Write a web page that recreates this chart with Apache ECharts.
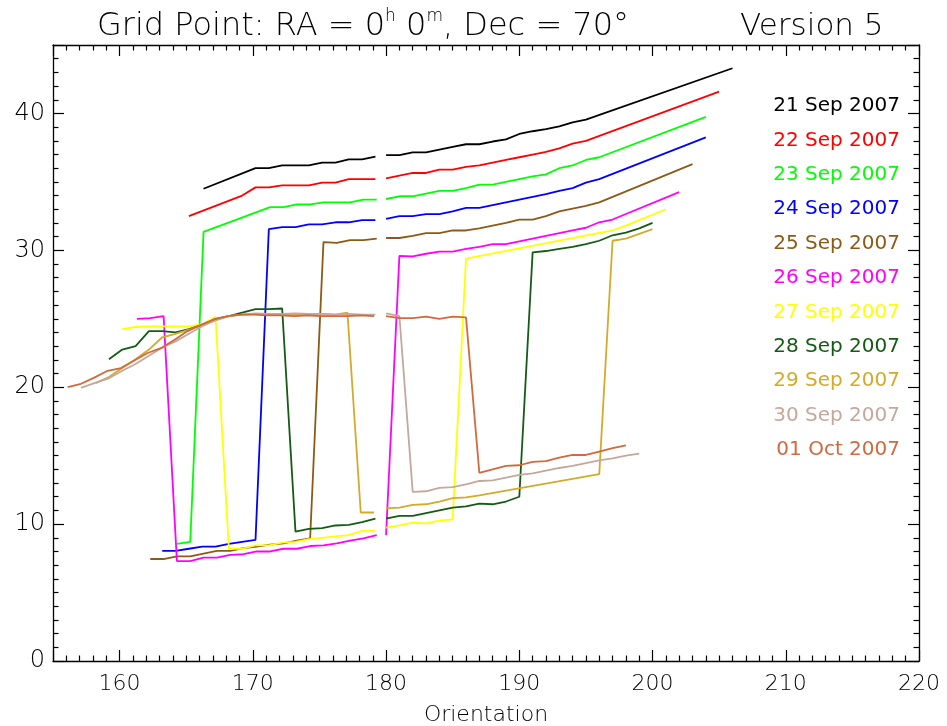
<!DOCTYPE html>
<html>
<head>
<meta charset="utf-8">
<script src="https://cdn.jsdelivr.net/npm/echarts@6/dist/echarts.min.js"></script>
<style>
  html, body { margin: 0; padding: 0; background: #ffffff; }
  #chart { width: 947px; height: 726px; }
</style>
</head>
<body>
<div id="chart"></div>
<script>
// Orientation (deg) vs. value for each observation date.
// A null entry marks the break in each track just below 180 deg.
const sep21 = [[166.3,34.5],[170.2,36.0],[171.2,36.0],[172.2,36.2],[174.2,36.2],[175.2,36.4],[176.2,36.4],[177.2,36.65],[178.2,36.65],[179.2,36.85],
  null,
  [180,36.95],[181,36.95],[182,37.15],[183,37.15],[184,37.35],[185,37.55],[186,37.75],[187,37.75],[188,37.95],[189,38.1],[190,38.5],[191,38.7],[192,38.85],[193,39.05],[194,39.35],[195,39.55],[206,43.3]];

const sep22 = [[165.2,32.5],[169.2,34.0],[170.2,34.6],[171.2,34.6],[172.2,34.75],[174.2,34.75],[175.2,34.95],[176.2,34.95],[177.2,35.2],[179.2,35.2],
  null,
  [180,35.25],[181,35.45],[182,35.65],[183,35.65],[184,35.9],[185,35.9],[186,36.1],[187,36.2],[188,36.4],[189,36.6],[190,36.8],[191,37.0],[192,37.2],[193,37.45],[194,37.8],[195,38.0],[205,41.6]];

const sep23 = [[164.3,8.55],[165.3,8.7],[166.3,31.35],[171.3,33.15],[172.3,33.15],[173.3,33.35],[174.3,33.35],[175.3,33.5],[177.3,33.5],[178.3,33.7],[179.3,33.7],
  null,
  [180,33.75],[181,33.95],[182,33.95],[183,34.15],[184,34.35],[185,34.35],[186,34.55],[187,34.8],[188,34.8],[189,35.0],[190,35.2],[191,35.4],[192,35.55],[193,36.0],[194,36.2],[195,36.6],[196,36.8],[204,39.75]];

const sep24 = [[163.2,8.05],[164.2,8.05],[165.2,8.2],[166.2,8.35],[167.2,8.35],[168.2,8.55],[169.2,8.7],[170.2,8.85],[171.2,31.55],[172.2,31.7],[173.2,31.7],[174.2,31.9],[175.2,31.9],[176.2,32.05],[177.2,32.05],[178.2,32.2],[179.2,32.2],
  null,
  [180,32.3],[181,32.5],[182,32.5],[183,32.65],[184,32.65],[185,32.85],[186,33.1],[187,33.1],[188,33.3],[189,33.5],[190,33.7],[191,33.9],[192,34.1],[193,34.35],[194,34.55],[195,34.95],[196,35.2],[204,38.25]];

const sep25 = [[162.3,7.45],[163.3,7.45],[164.3,7.65],[165.3,7.65],[166.3,7.85],[167.3,8.05],[168.3,8.05],[169.3,8.25],[170.3,8.35],[171.3,8.5],[172.3,8.6],[173.3,8.8],[174.3,8.95],[175.3,30.6],[176.3,30.55],[177.3,30.75],[178.3,30.75],[179.3,30.85],
  null,
  [180,30.9],[181,30.9],[182,31.05],[183,31.25],[184,31.25],[185,31.45],[186,31.45],[187,31.6],[188,31.8],[189,32.0],[190,32.25],[191,32.25],[192,32.5],[193,32.85],[194,33.05],[195,33.25],[196,33.5],[203,36.3]];

const sep26 = [[161.3,25.0],[162.3,25.05],[163.3,25.2],[164.3,7.3],[165.3,7.3],[166.3,7.55],[167.3,7.55],[168.3,7.75],[169.3,7.8],[170.3,8.0],[171.3,8.0],[172.3,8.2],[173.3,8.2],[174.3,8.4],[175.3,8.45],[176.3,8.6],[177.3,8.8],[178.3,8.95],[179.3,9.2],
  null,
  [180,9.2],[181,29.6],[182,29.55],[183,29.75],[184,29.9],[185,29.9],[186,30.1],[187,30.25],[188,30.45],[189,30.45],[190,30.65],[191,30.85],[192,31.05],[193,31.25],[194,31.45],[195,31.65],[196,32.05],[197,32.25],[202,34.25]];

const sep27 = [[160.2,24.25],[161.2,24.4],[162.2,24.45],[163.2,24.45],[164.2,24.45],[165.2,24.45],[166.2,24.6],[167.2,25.15],[168.2,8.2],[169.2,8.2],[170.2,8.45],[171.2,8.45],[172.2,8.65],[173.2,8.7],[174.2,8.9],[175.2,9.0],[176.2,9.1],[177.2,9.2],[178.2,9.5],[179.2,9.5],
  null,
  [180,9.75],[181,9.9],[182,10.1],[183,10.05],[184,10.25],[185,10.35],[186,29.4],[197,31.45],[198,31.8],[201,33.0]];

const sep28 = [[159.2,22.05],[160.2,22.75],[161.2,23.0],[162.2,24.1],[163.2,24.1],[164.2,24.0],[165.2,24.25],[166.2,24.55],[167.2,25.0],[168.2,25.2],[169.2,25.45],[170.2,25.7],[171.2,25.7],[172.2,25.75],[173.2,9.45],[174.2,9.65],[175.2,9.7],[176.2,9.9],[177.2,9.95],[178.2,10.15],[179.2,10.4],
  null,
  [180,10.4],[181,10.6],[182,10.6],[183,10.8],[184,11.0],[185,11.2],[186,11.3],[187,11.5],[188,11.45],[189,11.65],[190,12.0],[191,29.85],[192,29.95],[193,30.1],[194,30.25],[195,30.45],[196,30.7],[197,31.1],[198,31.3],[199,31.6],[200,32.0]];

const sep29 = [[158.2,20.3],[159.2,20.75],[160.2,21.4],[161.2,22.05],[162.2,22.75],[163.2,23.65],[164.2,23.9],[165.2,24.2],[166.2,24.55],[167.2,24.9],[168.2,25.2],[169.2,25.3],[170.2,25.35],[171.2,25.35],[172.2,25.3],[173.2,25.3],[174.2,25.3],[175.2,25.35],[176.2,25.3],[177.1,25.45],[178.1,10.85],[179.1,10.85],
  null,
  [180,11.15],[181,11.2],[182,11.4],[183,11.45],[184,11.65],[185,11.9],[186,11.95],[187,12.1],[196,13.65],[197,30.7],[198,30.85],[200,31.55]];

const sep30 = [[157.1,19.95],[158.1,20.3],[159.2,20.65],[160.2,21.2],[161.2,21.7],[162.2,22.3],[163.2,22.9],[164.2,23.35],[165.2,23.9],[166.2,24.45],[167.2,24.9],[168.2,25.2],[169.2,25.3],[170.2,25.4],[171.2,25.35],[172.2,25.35],[173.2,25.4],[174.2,25.35],[175.2,25.35],[176.2,25.3],[177.2,25.35],[178.2,25.3],[179.2,25.3],
  null,
  [180,25.4],[181,25.2],[182,12.35],[183,12.4],[184,12.65],[185,12.7],[186,12.9],[187,13.15],[188,13.2],[189,13.4],[190,13.6],[191,13.7],[192,13.9],[193,14.1],[194,14.25],[195,14.45],[196,14.65],[197,14.8],[198,15.0],[199,15.15]];

const oct01 = [[156.1,20.0],[157.1,20.25],[158.1,20.7],[159.1,21.2],[160.1,21.4],[161.1,21.95],[162.1,22.5],[163.1,22.85],[164.1,23.45],[165.1,24.1],[166.1,24.55],[167.1,24.95],[168.1,25.2],[169.1,25.3],[170.1,25.3],[171.1,25.25],[172.1,25.25],[173.1,25.2],[174.1,25.25],[175.1,25.2],[176.1,25.2],[177.1,25.2],[178.1,25.25],[179.1,25.2],
  null,
  [180,25.2],[181,25.05],[182,25.05],[183,25.15],[184,25.0],[185,25.15],[186,25.1],[187,13.75],[188,14.0],[189,14.25],[190,14.3],[191,14.55],[192,14.6],[193,14.85],[194,15.05],[195,15.05],[196,15.3],[197,15.55],[198,15.75]];

const dates = ['21 Sep 2007', '22 Sep 2007', '23 Sep 2007', '24 Sep 2007', '25 Sep 2007', '26 Sep 2007',
               '27 Sep 2007', '28 Sep 2007', '29 Sep 2007', '30 Sep 2007', '01 Oct 2007'];
const tracks = [sep21, sep22, sep23, sep24, sep25, sep26, sep27, sep28, sep29, sep30, oct01];
const colors = ['#000000', '#ff0000', '#00ff00', '#0000ff', '#8c5a16', '#ff00ff',
                '#ffff00', '#145c14', '#d4aa2a', '#c4a89c', '#d2693c'];

const FONT = "'DejaVu Sans', 'Liberation Sans', sans-serif";
const GAP_X = 179.6;

function withGap(track) {
  return track.map(p => (p === null ? [GAP_X, null] : p));
}

const tickAxis = (extra) => Object.assign({
  type: 'value',
  axisLine: { show: true, onZero: false, lineStyle: { color: '#000', width: 1.3 } },
  axisTick: { show: true, inside: true, length: 11, lineStyle: { color: '#000', width: 1.2 } },
  minorTick: { show: true, splitNumber: 10, length: 5.5, lineStyle: { color: '#000', width: 1.2 } },
  splitLine: { show: false },
  minorSplitLine: { show: false }
}, extra);

const chart = echarts.init(document.getElementById('chart'), null, { renderer: 'canvas' });

chart.setOption({
  backgroundColor: '#ffffff',
  animation: false,
  title: [
    {
      text: 'Grid Point: RA = 0{s|h} 0{s|m}, Dec = 70°',
      left: 92, top: 3,
      textStyle: {
        fontFamily: FONT, fontSize: 32, fontWeight: 200, color: '#000', lineHeight: 38,
        rich: { s: { fontFamily: FONT, fontSize: 17, fontWeight: 200, lineHeight: 20, verticalAlign: 'top', color: '#000' } }
      }
    },
    {
      text: 'Version 5',
      left: 735, top: 3,
      textStyle: { fontFamily: FONT, fontSize: 31, fontWeight: 200, color: '#000', lineHeight: 38 }
    }
  ],
  grid: { left: 53, right: 28, top: 45, bottom: 65, containLabel: false, outerBoundsMode: 'none' },
  xAxis: [
    tickAxis({
      min: 155, max: 220, position: 'bottom',
      name: 'Orientation', nameLocation: 'middle', nameGap: 43,
      nameTextStyle: { fontFamily: FONT, fontSize: 22, fontWeight: 200, color: '#000' },
      axisLabel: { show: true, showMinLabel: false, color: '#000', fontFamily: FONT, fontSize: 22, fontWeight: 200, margin: 12 }
    }),
    tickAxis({ min: 155, max: 220, position: 'top', axisLabel: { show: false } })
  ],
  yAxis: [
    tickAxis({
      min: 0, max: 45, interval: 10, position: 'left',
      axisLabel: { show: true, showMaxLabel: false, color: '#000', fontFamily: FONT, fontSize: 24, fontWeight: 200, margin: 8 }
    }),
    tickAxis({ min: 0, max: 45, interval: 10, position: 'right', axisLabel: { show: false } })
  ],
  graphic: dates.map((d, i) => ({
    type: 'text',
    x: 900,
    y: 106 + i * 34.4,
    silent: true,
    style: {
      text: d, fill: colors[i], fontFamily: FONT, fontSize: 20, fontWeight: 'normal',
      align: 'right', verticalAlign: 'middle'
    }
  })),
  series: tracks.map((t, i) => ({
    name: dates[i],
    type: 'line',
    xAxisIndex: 0,
    yAxisIndex: 0,
    data: withGap(t),
    showSymbol: false,
    symbol: 'none',
    connectNulls: false,
    lineStyle: { color: colors[i], width: 1.8 },
    itemStyle: { color: colors[i] },
    emphasis: { disabled: true },
    silent: true
  }))
});
</script>
</body>
</html>
